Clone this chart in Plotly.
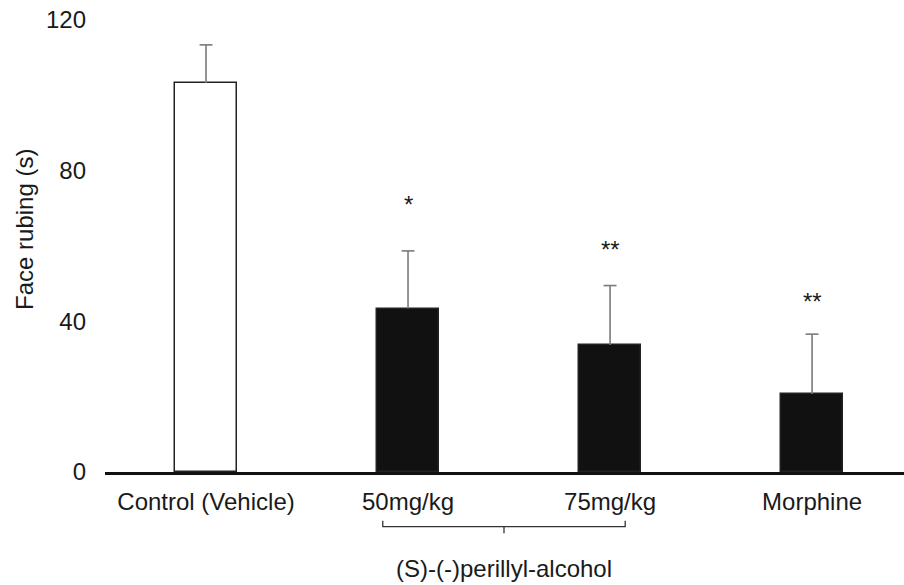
import plotly.graph_objects as go

# Face rubbing time per treatment group (mean and SD, seconds)
groups = ["Control (Vehicle)", "50mg/kg", "75mg/kg", "Morphine"]
face_rubbing = [103.3, 43.4, 33.7, 20.7]
sd = [10.1, 15.3, 15.8, 15.9]
significance = ["", "*", "**", "**"]
y_ticks = [0, 40, 80, 120]
bracket_label = "(S)-(-)perillyl-alcohol"
y_title = "Face rubing (s)"

FONT = "Liberation Sans, Arial, sans-serif"
FS = 24
TEXT = "#1a1a1a"
pos = list(range(len(groups)))

fig = go.Figure()
fig.add_trace(go.Bar(
    x=pos,
    y=face_rubbing,
    width=0.307,
    marker=dict(
        color=["#ffffff", "#111111", "#111111", "#111111"],
        line=dict(color="#222222", width=1.5),
    ),
    showlegend=False,
    hoverinfo="skip",
))

# upper-only SD whiskers: stem from the bar top plus a short cap
cap = 0.032
ex, ey = [], []
for p, m, s in zip(pos, face_rubbing, sd):
    ex += [p, p, None, p - cap, p + cap, None]
    ey += [m, m + s, None, m + s, m + s, None]
fig.add_trace(go.Scatter(
    x=ex, y=ey, mode="lines",
    line=dict(color="#7a7a7a", width=1.6),
    showlegend=False, hoverinfo="skip", cliponaxis=False,
))

# significance marks above the whiskers
star_shift = [0, 46, 36, 33]
for i, (m, s, mark) in enumerate(zip(face_rubbing, sd, significance)):
    if mark:
        fig.add_annotation(
            x=pos[i], y=m + s, xref="x", yref="y",
            text=mark, showarrow=False, yanchor="middle",
            yshift=star_shift[i],
            font=dict(family=FONT, size=FS, color=TEXT),
        )

# bracket grouping the two perillyl-alcohol doses
bx0, bx1 = 0.875, 2.075
bmid = (bx0 + bx1) / 2
fig.add_shape(
    type="path", xref="x", yref="paper",
    path=(f"M {bx0},-0.1077 L {bx0},-0.121 L {bx1},-0.121 L {bx1},-0.1077 "
          f"M {bmid},-0.121 L {bmid},-0.1356"),
    line=dict(color="#333333", width=1.3),
)
fig.add_annotation(
    x=bmid, y=-0.2124, xref="x", yref="paper",
    text=bracket_label, showarrow=False, yanchor="middle",
    font=dict(family=FONT, size=FS, color=TEXT),
)

# rotated y-axis title
fig.add_annotation(
    x=-0.1014, y=0.5376, xref="paper", yref="paper",
    text=y_title, textangle=-90, showarrow=False,
    xanchor="center", yanchor="middle",
    font=dict(family=FONT, size=FS, color=TEXT),
)

fig.update_layout(
    width=904, height=585,
    margin=dict(l=105, r=0, t=20, b=113),
    paper_bgcolor="white",
    plot_bgcolor="white",
    font=dict(family=FONT, size=FS, color=TEXT),
    bargap=0,
)
fig.update_xaxes(
    range=[-0.5, 3.455],
    tickvals=pos,
    ticktext=groups,
    showline=True, linecolor="#111111", linewidth=3,
    showgrid=False, zeroline=False, ticks="",
    ticklabelstandoff=6,
    tickfont=dict(family=FONT, size=FS, color=TEXT),
)
fig.update_yaxes(
    range=[0, 120],
    tickvals=y_ticks,
    showline=False, showgrid=False, zeroline=False, ticks="",
    ticklabelstandoff=18,
    tickfont=dict(family=FONT, size=FS, color=TEXT),
)

fig.write_html("out.html")
